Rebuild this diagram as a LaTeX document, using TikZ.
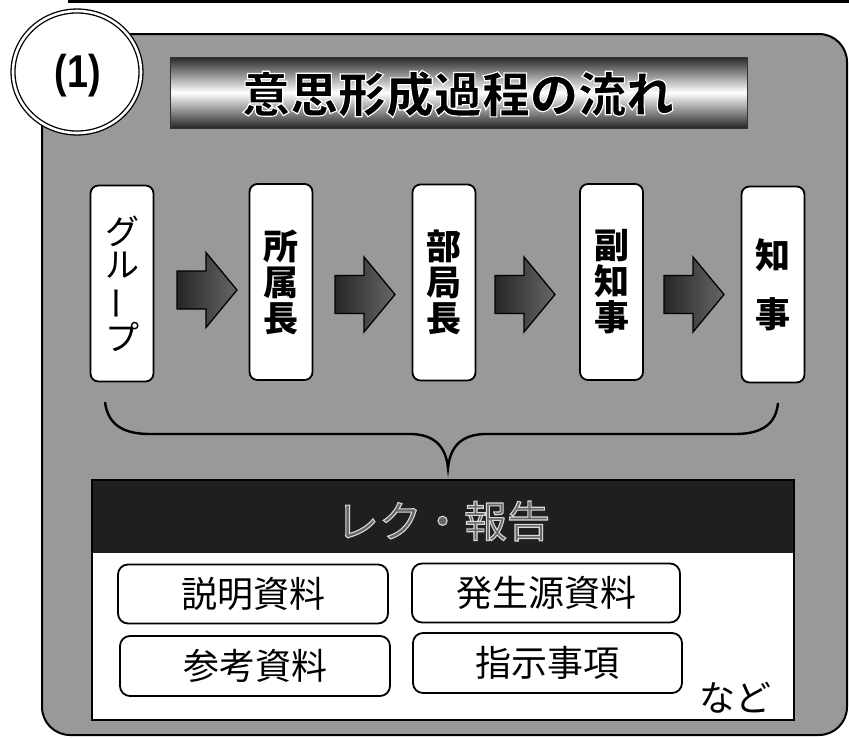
\documentclass[tikz,border=0pt]{standalone}
\usepackage{fontspec}
\usepackage{graphicx}
\usetikzlibrary{calc}
\newfontfamily\jp{Noto Sans CJK JP}
\newfontfamily\jptitle[BoldFeatures={FakeBold=2.4}]{Noto Sans CJK JP}
\newfontfamily\jphead[FakeBold=2.5]{Noto Sans CJK JP}
\newfontfamily\lat{Liberation Sans}
\tikzset{
  panel/.style={draw=black, line width=2pt, fill=black!40, rounded corners=28pt},
  vbox/.style={draw=black, line width=1.8pt, fill=white, rounded corners=8pt,
    minimum width=63pt, minimum height=196pt, inner sep=0pt, align=center},
  sbox/.style={draw=black, line width=1.8pt, fill=white, rounded corners=10pt,
    minimum height=59pt, inner sep=0pt, font=\jp\fontsize{36}{36}\selectfont},
  vtext/.style={font=\jp\bfseries\fontsize{35}{36}\selectfont},
  arrowbody/.style={draw=black, line width=1.3pt, left color=black!85, right color=black!60},
  blockarrow/.pic={\path[arrowbody] (0,-19) -- (29,-19) -- (29,-37.5) -- (60,0)
      -- (29,37.5) -- (29,19) -- (0,19) -- cycle;},
  bracestyle/.style={draw=black, line width=2.4pt},
}
\begin{document}
\begin{tikzpicture}[x=1pt,y=-1pt]
\useasboundingbox (0,0) rectangle (849,737);
\fill[white] (0,0) rectangle (849,737);
% top rule
\draw[line width=2.5pt] (68,1.5) -- (849,1.5);
% panel
\path[panel] (42,34) rectangle (847,735);
% title bar
\shade[top color=black!85, bottom color=black!85, middle color=white] (170,57) rectangle (747,128);
\draw[black!80, line width=1pt] (170,57) rectangle (747,128);
\node[font=\jptitle\bfseries\fontsize{48}{48}\selectfont, text=black] (title) at (458,94) {\special{pdf:code 1 1 1 RG}意思形成過程の流れ};
% number circle
\draw[line width=1.3pt, double=white, double distance=2.6pt, fill=white] (77,72) ellipse [x radius=64, y radius=61];
\node[font=\lat\bfseries\fontsize{46}{46}\selectfont] (num) at (78,76) {\scalebox{0.82}[1]{(1)}};
% flow boxes
\node[vbox, font=\jp\fontsize{34}{33.5}\selectfont] (grp) at (122,283.5) {グ\\ル\\\rotatebox[origin=c]{90}{ー}\\プ};
\node[vbox, vtext] (shozoku) at (281,282) {所\\属\\長};
\node[vbox, vtext] (bukyoku) at (444,282.5) {部\\局\\長};
\node[vbox, vtext] (fuku) at (611.5,282) {副\\知\\事};
\node[vbox, font=\jp\bfseries\fontsize{35}{59}\selectfont] (chiji) at (773,284.5) {知\\事};
% block arrows
\pic at (177,290) {blockarrow};
\pic at (335,294.5) {blockarrow};
\pic at (495,294.5) {blockarrow};
\pic at (664,294.5) {blockarrow};
% brace
\draw[bracestyle] (105,402) .. controls (108,426) and (125,434) .. (150,434) -- (412,434)
  .. controls (436,435) and (446,448) .. (448,468)
  .. controls (450,448) and (460,435) .. (484,434) -- (735,434)
  .. controls (762,434) and (776,424) .. (778,403);
% report box
\draw[line width=1.8pt, fill=white] (92,480) rectangle (794,720);
\fill[black!88] (92,480) rectangle (794,553);
\draw[line width=1.8pt] (92,480) rectangle (794,720);
\node[font=\jphead\fontsize{43}{43}\selectfont, text=black!60] (rep) at (443,521) {\special{pdf:code 0.85 0.85 0.85 RG}レク・報告};
\node[sbox, minimum width=270pt] (setsumei) at (253,594) {説明資料};
\node[sbox, minimum width=268pt] (hassei) at (546,593) {発生源資料};
\node[sbox, minimum width=270pt, minimum height=60pt] (sanko) at (255,666) {参考資料};
\node[sbox, minimum width=269pt, minimum height=60pt] (shiji) at (547.5,663) {指示事項};
\node[font=\jp\fontsize{36}{36}\selectfont] (nado) at (735,698) {など};
\end{tikzpicture}
\end{document}
